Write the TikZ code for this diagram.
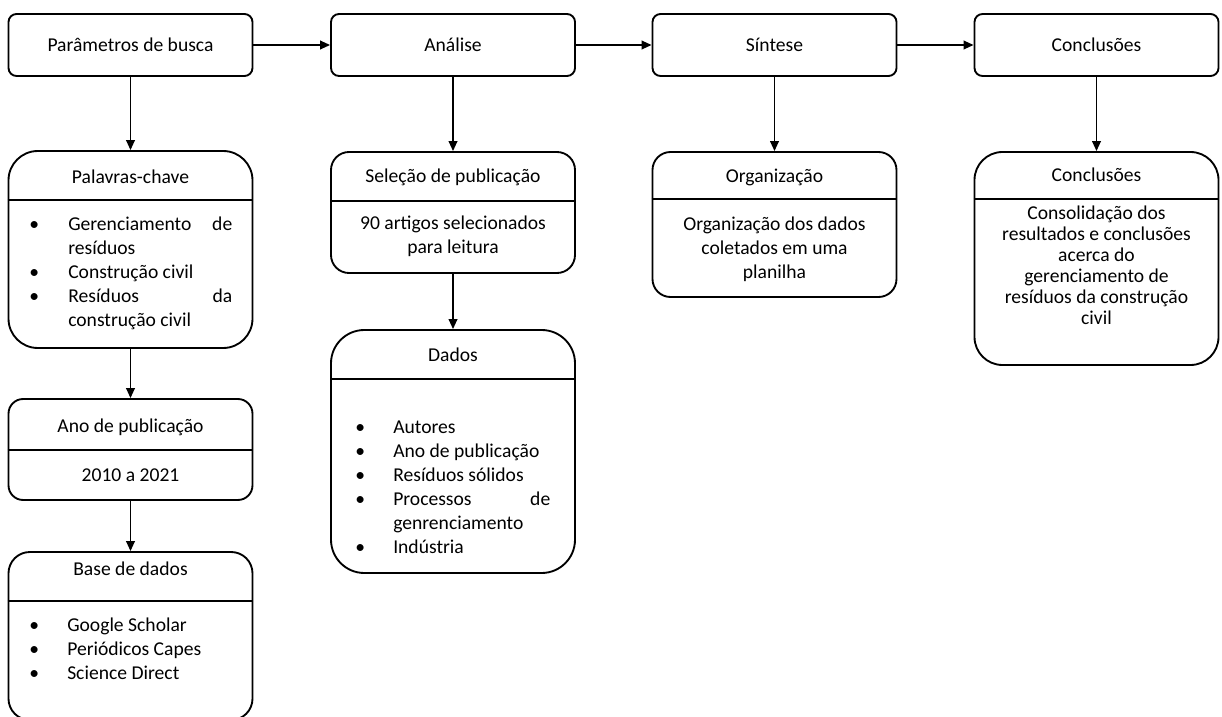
\documentclass[tikz,border=0pt]{standalone}
\usepackage{fontspec}
\setmainfont{Carlito}
\usetikzlibrary{arrows.meta}
\newcommand{\bul}[1]{\makebox[#1][l]{\textbullet}}
\newcommand{\lline}[2]{\makebox[#1][l]{#2}}
\begin{document}
\begin{tikzpicture}[x=0.75pt,y=-0.75pt,
  font=\fontsize{14.7}{18}\selectfont,
  box/.style={draw, line width=1.4pt, rounded corners=#1, inner sep=0pt, minimum width=183pt},
  box/.default=6pt,
  divl/.style={line width=1.4pt},
  arr/.style={-{Triangle[length=7.5pt,width=6.5pt]}, line width=1.3pt},
  txt/.style={inner sep=0pt, align=center},
  lst/.style={inner sep=0pt, align=left, anchor=west}]
\useasboundingbox (0,0) rectangle (1222,717);

% top row
\node[box, minimum height=46.5pt] (pb) at (130.5,45) {Parâmetros de busca};
\node[box, minimum height=46.5pt] (an) at (453,45) {Análise};
\node[box, minimum height=46.5pt] (si) at (774.5,45) {Síntese};
\node[box, minimum height=46.5pt] (co) at (1096.5,45) {Conclusões};

% column 1
\node[box=22pt, minimum height=147.75pt] (pc) at (130.5,249.5) {};
\node[txt] (pct) at (130.5,177) {Palavras-chave};
\draw[divl] (pc.west |- 0,200) -- (pc.east |- 0,200);
\node[lst] (pcb) at (29,273)
  {\lline{152.25pt}{\bul{29.25pt}Gerenciamento\hfill de}\\
   \lline{152.25pt}{\hspace*{29.25pt}resíduos}\\
   \lline{152.25pt}{\bul{29.25pt}Construção civil}\\
   \lline{152.25pt}{\bul{29.25pt}Resíduos\hfill da}\\
   \lline{152.25pt}{\hspace*{29.25pt}construção civil}};

\node[box=11pt, minimum height=75.75pt] (ap) at (130.5,449.5) {};
\node[txt] (apt) at (130.5,427) {Ano de publicação};
\draw[divl] (ap.west |- 0,450) -- (ap.east |- 0,450);
\node[txt] (apb) at (130.5,475) {2010 a 2021};

\node[box=16pt, minimum height=126pt] (bd) at (130.5,636) {};
\node[txt] (bdt) at (130.5,569) {Base de dados};
\draw[divl] (bd.west |- 0,601) -- (bd.east |- 0,601);
\node[lst] (bdb) at (29,649)
  {\lline{152.25pt}{\bul{28.5pt}Google Scholar}\\
   \lline{152.25pt}{\bul{28.5pt}Periódicos Capes}\\
   \lline{152.25pt}{\bul{28.5pt}Science Direct}};

% column 2
\node[box=13.5pt, minimum height=90.75pt] (sp) at (453,212.5) {};
\node[txt] (spt) at (453,177) {Seleção de publicação};
\draw[divl] (sp.west |- 0,201) -- (sp.east |- 0,201);
\node[txt] (spb) at (453,236.5) {90 artigos selecionados\\para leitura};

\node[box=25pt, minimum height=182.25pt] (da) at (453,451.5) {};
\node[txt] (dat) at (453,355) {Dados};
\draw[divl] (da.west |- 0,379) -- (da.east |- 0,379);
\node[lst] (dab) at (355,487)
  {\lline{146.25pt}{\bul{28.5pt}Autores}\\
   \lline{146.25pt}{\bul{28.5pt}Ano de publicação}\\
   \lline{146.25pt}{\bul{28.5pt}Resíduos sólidos}\\
   \lline{146.25pt}{\bul{28.5pt}Processos\hfill de}\\
   \lline{146.25pt}{\hspace*{28.5pt}genrenciamento}\\
   \lline{146.25pt}{\bul{28.5pt}Indústria}};

% column 3
\node[box=13.5pt, minimum height=108.75pt] (org) at (774.5,224.5) {};
\node[txt] (orgt) at (774.5,177) {Organização};
\draw[divl] (org.west |- 0,199) -- (org.east |- 0,199);
\node[txt] (orgb) at (774.5,249) {Organização dos dados\\coletados em uma\\planilha};

% column 4
\node[box=21pt, minimum height=159.75pt] (cc) at (1096.5,258.5) {};
\node[txt] (cct) at (1096.5,175) {Conclusões};
\draw[divl] (cc.west |- 0,199) -- (cc.east |- 0,199);
\node[txt, font=\fontsize{14.7}{15.75}\selectfont] (ccb) at (1096.5,265.5)
  {Consolidação dos\\resultados e conclusões\\acerca do\\gerenciamento de\\resíduos da construção\\civil};

% connectors
\draw[arr] (pb) -- (an);
\draw[arr] (an) -- (si);
\draw[arr] (si) -- (co);
\draw[arr] (pb) -- (pc);
\draw[arr] (pc) -- (ap);
\draw[arr] (ap) -- (bd);
\draw[arr] (an) -- (sp);
\draw[arr] (sp) -- (da);
\draw[arr] (si) -- (org);
\draw[arr] (co) -- (cc);
\end{tikzpicture}
\end{document}
